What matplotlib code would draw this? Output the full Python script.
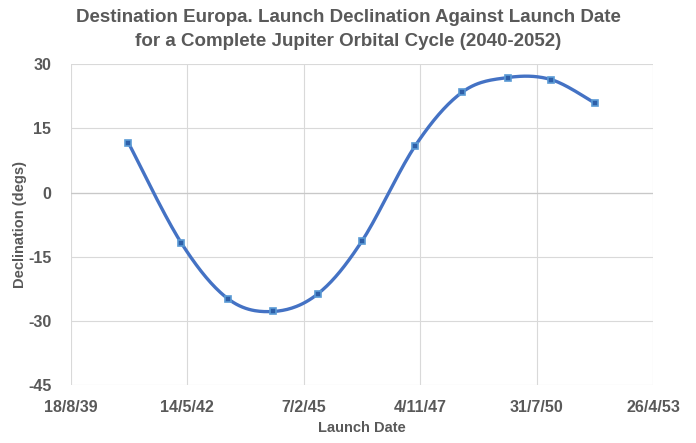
import datetime as dt

import numpy as np
import matplotlib
matplotlib.use("Agg")
import matplotlib.pyplot as plt
import matplotlib.dates as mdates

# launch windows
launch_dates = [
    dt.date(1940, 12, 24),
    dt.date(1942, 3, 22),
    dt.date(1943, 5, 2),
    dt.date(1944, 5, 22),
    dt.date(1945, 6, 7),
    dt.date(1946, 6, 20),
    dt.date(1947, 9, 23),
    dt.date(1948, 10, 30),
    dt.date(1949, 11, 24),
    dt.date(1950, 12, 3),
    dt.date(1951, 12, 13),
]
declination = [11.7, -11.7, -24.9, -27.8, -23.7, -11.4, 11.0, 23.5, 26.9, 26.4, 20.9]

x_start = dt.date(1939, 8, 18)
x_end = dt.date(1953, 4, 26)
y_ticks = [-45, -30, -15, 0, 15, 30]

TEXT = "#595959"
LINE = "#4472C4"
MARK = "#5B9BD5"

plt.rcParams["font.family"] = ["Liberation Sans Narrow", "Liberation Sans", "DejaVu Sans"]
plt.rcParams["axes.unicode_minus"] = False


def smooth(xs, ys, n=30):
    """Excel-style smoothed line (Catmull-Rom through the points)."""
    xs = np.asarray(xs, float)
    ys = np.asarray(ys, float)
    px = np.concatenate([[xs[0]], xs, [xs[-1]]])
    py = np.concatenate([[ys[0]], ys, [ys[-1]]])
    out_x, out_y = [], []
    t = np.linspace(0, 1, n)
    for i in range(1, len(px) - 2):
        p0 = np.array([px[i], py[i]])
        p3 = np.array([px[i + 1], py[i + 1]])
        c1 = p0 + (np.array([px[i + 1], py[i + 1]]) - np.array([px[i - 1], py[i - 1]])) / 6
        c2 = p3 - (np.array([px[i + 2], py[i + 2]]) - np.array([px[i], py[i]])) / 6
        b = ((1 - t) ** 3)[:, None] * p0 + (3 * (1 - t) ** 2 * t)[:, None] * c1 \
            + (3 * (1 - t) * t ** 2)[:, None] * c2 + (t ** 3)[:, None] * p3
        out_x.extend(b[:, 0])
        out_y.extend(b[:, 1])
    return np.array(out_x), np.array(out_y)


fig = plt.figure(figsize=(6.96, 4.43), dpi=100)
ax = fig.add_axes([0.1016, 0.1309, 0.9387 - 0.1016, 0.8549 - 0.1309])

xnum = mdates.date2num(launch_dates)
sx, sy = smooth(xnum, declination)
ax.plot(sx, sy, color=LINE, linewidth=2.4, solid_capstyle="round", zorder=3)
ax.plot(xnum, declination, linestyle="none", marker="s", markersize=5,
        markerfacecolor="#2E5FA8", markeredgecolor=MARK, markeredgewidth=1.2, zorder=4)

ax.set_xlim(mdates.date2num(x_start), mdates.date2num(x_end))
ax.set_ylim(-45, 30)
ticks = [mdates.date2num(x_start) + 1000 * i for i in range(6)]
ax.set_xticks(ticks)
ax.set_xticklabels([f"{d.day}/{d.month}/{d.strftime('%y')}" for d in mdates.num2date(ticks)])
ax.set_yticks(y_ticks)

ax.grid(True, color="#D9D9D9", linewidth=0.8)
ax.axhline(0, color="#C8C8C8", linewidth=0.9, zorder=1)
ax.set_axisbelow(True)
for s in ax.spines.values():
    s.set_visible(False)
ax.tick_params(length=0, labelsize=11.5, labelcolor=TEXT, pad=11)
ax.tick_params(axis="y", pad=14)
for lab in ax.get_xticklabels() + ax.get_yticklabels():
    lab.set_fontweight("bold")

ax.set_xlabel("Launch Date", fontsize=10.5, fontweight="bold", color=TEXT, labelpad=4)
ax.set_ylabel("Declination (degs)", fontsize=10.5, fontweight="bold", color=TEXT, labelpad=1)
fig.suptitle("Destination Europa. Launch Declination Against Launch Date\nfor a Complete Jupiter Orbital Cycle (2040-2052)",
             fontsize=13.5, fontweight="bold", color=TEXT, y=0.98, linespacing=1.55)

fig.savefig("out.png", dpi=100)
